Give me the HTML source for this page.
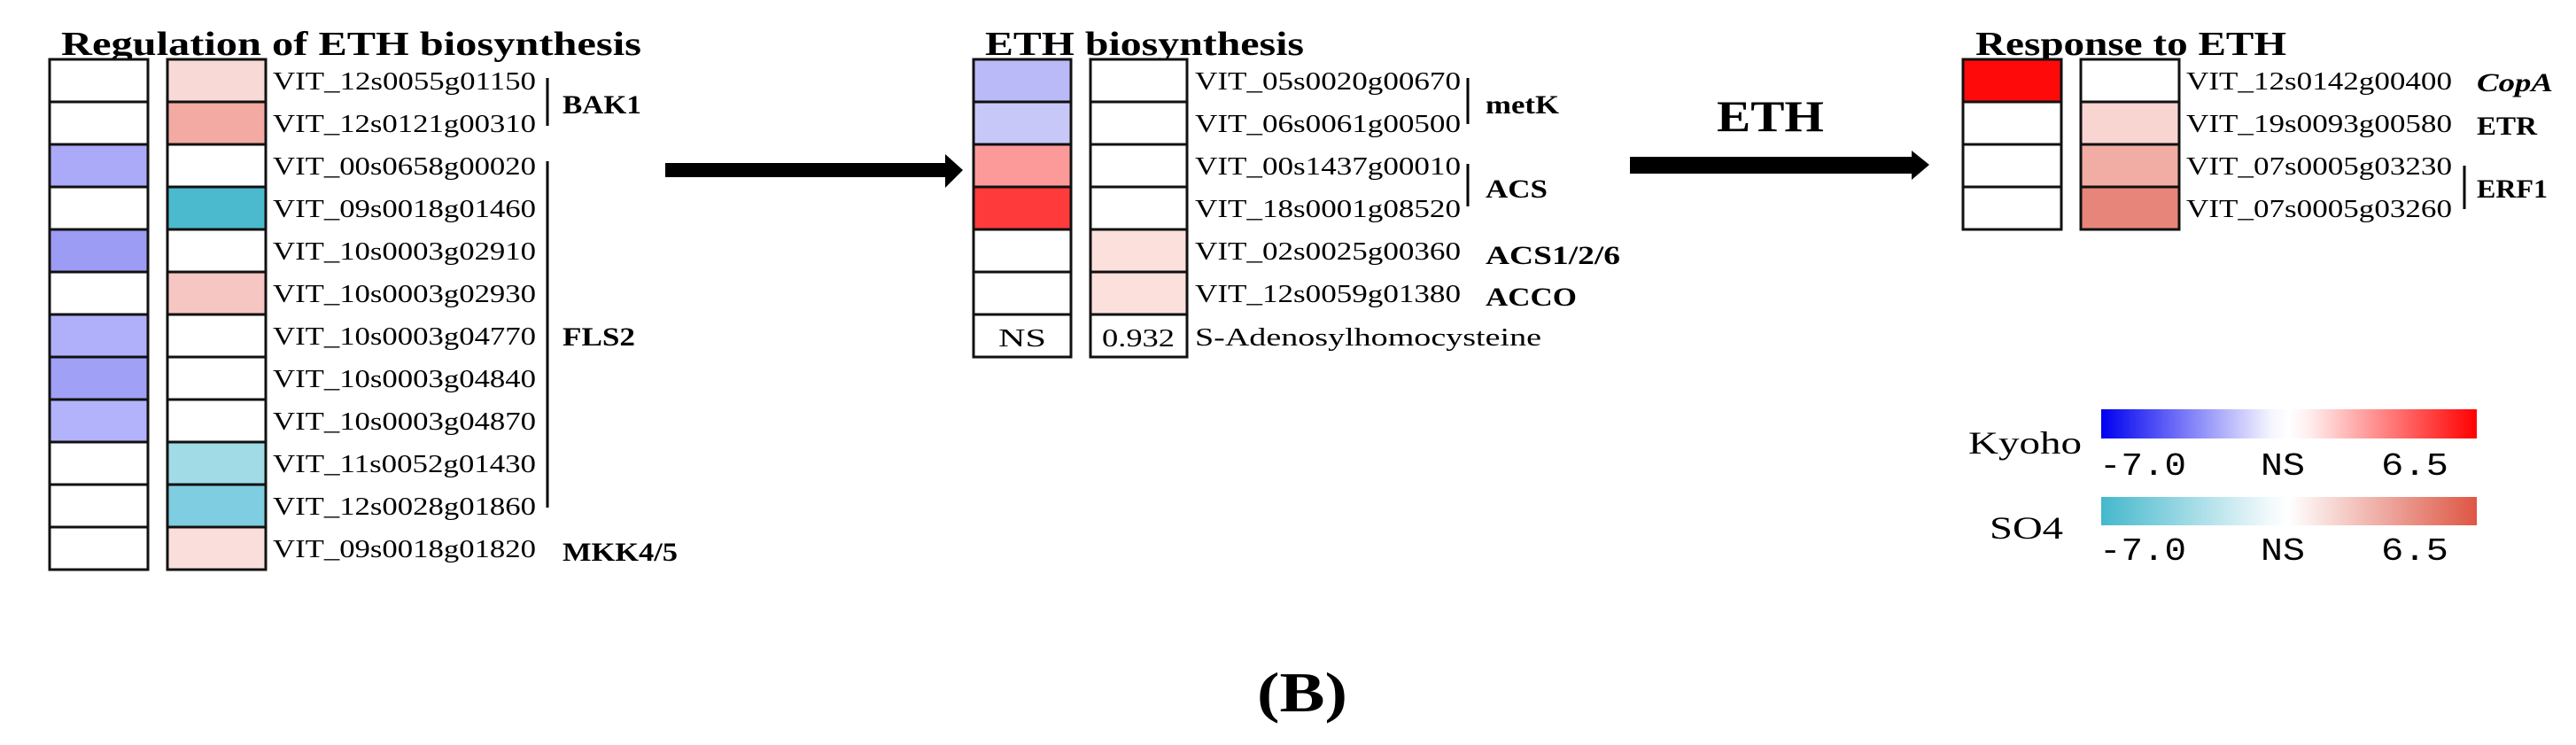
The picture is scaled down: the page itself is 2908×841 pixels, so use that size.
<!DOCTYPE html>
<html><head><meta charset="utf-8"><style>html,body{margin:0;padding:0;background:#fff}svg{display:block}</style></head>
<body>
<svg width="2908" height="841" viewBox="0 0 2908 841" xmlns="http://www.w3.org/2000/svg">
<defs>
<linearGradient id="gk" x1="0" x2="1" y1="0" y2="0">
<stop offset="0" stop-color="#0000f0"/><stop offset="0.45" stop-color="#f4f4ff"/><stop offset="0.5" stop-color="#ffffff"/><stop offset="0.55" stop-color="#fff0f0"/><stop offset="1" stop-color="#ff0000"/></linearGradient>
<linearGradient id="gs" x1="0" x2="1" y1="0" y2="0">
<stop offset="0" stop-color="#45b8cc"/><stop offset="0.45" stop-color="#f2fafc"/><stop offset="0.5" stop-color="#ffffff"/><stop offset="0.55" stop-color="#fbeeec"/><stop offset="1" stop-color="#de5644"/></linearGradient>
</defs>
<g font-family="Liberation Serif, serif" fill="#000">
<!-- titles -->
<text x="69" y="62" font-size="38" font-weight="bold" textLength="655" lengthAdjust="spacingAndGlyphs">Regulation of ETH biosynthesis</text>
<text x="1112" y="62" font-size="38" font-weight="bold" textLength="360" lengthAdjust="spacingAndGlyphs">ETH biosynthesis</text>
<text x="2230" y="62" font-size="38" font-weight="bold" textLength="351" lengthAdjust="spacingAndGlyphs">Response to ETH</text>
</g>
<!-- left heatmap -->
<g stroke="#111" stroke-width="3">
<rect x="56" y="67" width="111" height="48" fill="#fff"/>
<rect x="56" y="115" width="111" height="48" fill="#fff"/>
<rect x="56" y="163" width="111" height="48" fill="#aaaaf8"/>
<rect x="56" y="211" width="111" height="48" fill="#fff"/>
<rect x="56" y="259" width="111" height="48" fill="#9c9cf5"/>
<rect x="56" y="307" width="111" height="48" fill="#fff"/>
<rect x="56" y="355" width="111" height="48" fill="#b0b0fa"/>
<rect x="56" y="403" width="111" height="48" fill="#a0a0f7"/>
<rect x="56" y="451" width="111" height="48" fill="#b3b3fb"/>
<rect x="56" y="499" width="111" height="48" fill="#fff"/>
<rect x="56" y="547" width="111" height="48" fill="#fff"/>
<rect x="56" y="595" width="111" height="48" fill="#fff"/>
<rect x="189" y="67" width="111" height="48" fill="#f9d9d6"/>
<rect x="189" y="115" width="111" height="48" fill="#f2aaa3"/>
<rect x="189" y="163" width="111" height="48" fill="#fff"/>
<rect x="189" y="211" width="111" height="48" fill="#4bbacf"/>
<rect x="189" y="259" width="111" height="48" fill="#fff"/>
<rect x="189" y="307" width="111" height="48" fill="#f5c6c2"/>
<rect x="189" y="355" width="111" height="48" fill="#fff"/>
<rect x="189" y="403" width="111" height="48" fill="#fff"/>
<rect x="189" y="451" width="111" height="48" fill="#fff"/>
<rect x="189" y="499" width="111" height="48" fill="#a0dbe6"/>
<rect x="189" y="547" width="111" height="48" fill="#7ecde0"/>
<rect x="189" y="595" width="111" height="48" fill="#fadedb"/>
</g>
<g font-family="Liberation Serif, serif" font-size="28" fill="#000">
<text x="308" y="101" textLength="297" lengthAdjust="spacingAndGlyphs">VIT_12s0055g01150</text>
<text x="308" y="149" textLength="297" lengthAdjust="spacingAndGlyphs">VIT_12s0121g00310</text>
<text x="308" y="197" textLength="297" lengthAdjust="spacingAndGlyphs">VIT_00s0658g00020</text>
<text x="308" y="245" textLength="297" lengthAdjust="spacingAndGlyphs">VIT_09s0018g01460</text>
<text x="308" y="293" textLength="297" lengthAdjust="spacingAndGlyphs">VIT_10s0003g02910</text>
<text x="308" y="341" textLength="297" lengthAdjust="spacingAndGlyphs">VIT_10s0003g02930</text>
<text x="308" y="389" textLength="297" lengthAdjust="spacingAndGlyphs">VIT_10s0003g04770</text>
<text x="308" y="437" textLength="297" lengthAdjust="spacingAndGlyphs">VIT_10s0003g04840</text>
<text x="308" y="485" textLength="297" lengthAdjust="spacingAndGlyphs">VIT_10s0003g04870</text>
<text x="308" y="533" textLength="297" lengthAdjust="spacingAndGlyphs">VIT_11s0052g01430</text>
<text x="308" y="581" textLength="297" lengthAdjust="spacingAndGlyphs">VIT_12s0028g01860</text>
<text x="308" y="629" textLength="297" lengthAdjust="spacingAndGlyphs">VIT_09s0018g01820</text>
</g>
<g stroke="#000" stroke-width="3">
<line x1="618" y1="88" x2="618" y2="142"/>
<line x1="618" y1="182" x2="618" y2="573"/>
<line x1="1657" y1="88" x2="1657" y2="140"/>
<line x1="1657" y1="185" x2="1657" y2="233"/>
<line x1="2782" y1="187" x2="2782" y2="236"/>
</g>
<g font-family="Liberation Serif, serif" font-size="30" font-weight="bold" fill="#000">
<text x="635" y="128" textLength="89" lengthAdjust="spacingAndGlyphs">BAK1</text>
<text x="635" y="390" textLength="82" lengthAdjust="spacingAndGlyphs">FLS2</text>
<text x="635" y="633" textLength="130" lengthAdjust="spacingAndGlyphs">MKK4/5</text>
<text x="1677" y="128" textLength="83" lengthAdjust="spacingAndGlyphs">metK</text>
<text x="1677" y="223" textLength="70" lengthAdjust="spacingAndGlyphs">ACS</text>
<text x="1677" y="298" textLength="152" lengthAdjust="spacingAndGlyphs">ACS1/2/6</text>
<text x="1677" y="345" textLength="103" lengthAdjust="spacingAndGlyphs">ACCO</text>
<text x="2796" y="103" font-style="italic" textLength="86" lengthAdjust="spacingAndGlyphs">CopA</text>
<text x="2796" y="152" textLength="68" lengthAdjust="spacingAndGlyphs">ETR</text>
<text x="2796" y="223" textLength="80" lengthAdjust="spacingAndGlyphs">ERF1</text>
</g>
<!-- arrows -->
<rect x="751" y="184" width="318" height="16" fill="#000"/>
<polygon points="1067,174 1087,192 1067,212" fill="#000"/>
<rect x="1840" y="177" width="320" height="19" fill="#000"/>
<polygon points="2158,170 2178,186 2158,203" fill="#000"/>
<text x="1938" y="148" font-family="Liberation Serif, serif" font-size="50" font-weight="bold" textLength="121" lengthAdjust="spacingAndGlyphs">ETH</text>
<!-- middle heatmap -->
<g stroke="#111" stroke-width="3">
<rect x="1099" y="67" width="110" height="48" fill="#babaf9"/>
<rect x="1099" y="115" width="110" height="48" fill="#c8c8f8"/>
<rect x="1099" y="163" width="110" height="48" fill="#fc9a9a"/>
<rect x="1099" y="211" width="110" height="48" fill="#ff3a3a"/>
<rect x="1099" y="259" width="110" height="48" fill="#fff"/>
<rect x="1099" y="307" width="110" height="48" fill="#fff"/>
<rect x="1099" y="355" width="110" height="48" fill="#fff"/>
<rect x="1231" y="67" width="109" height="48" fill="#fff"/>
<rect x="1231" y="115" width="109" height="48" fill="#fff"/>
<rect x="1231" y="163" width="109" height="48" fill="#fff"/>
<rect x="1231" y="211" width="109" height="48" fill="#fff"/>
<rect x="1231" y="259" width="109" height="48" fill="#fbe0dc"/>
<rect x="1231" y="307" width="109" height="48" fill="#fbe0dc"/>
<rect x="1231" y="355" width="109" height="48" fill="#fff"/>
</g>
<g font-family="Liberation Serif, serif" font-size="28" fill="#000">
<text x="1349" y="101" textLength="300" lengthAdjust="spacingAndGlyphs">VIT_05s0020g00670</text>
<text x="1349" y="149" textLength="300" lengthAdjust="spacingAndGlyphs">VIT_06s0061g00500</text>
<text x="1349" y="197" textLength="300" lengthAdjust="spacingAndGlyphs">VIT_00s1437g00010</text>
<text x="1349" y="245" textLength="300" lengthAdjust="spacingAndGlyphs">VIT_18s0001g08520</text>
<text x="1349" y="293" textLength="300" lengthAdjust="spacingAndGlyphs">VIT_02s0025g00360</text>
<text x="1349" y="341" textLength="300" lengthAdjust="spacingAndGlyphs">VIT_12s0059g01380</text>
<text x="1349" y="390" textLength="391" lengthAdjust="spacingAndGlyphs">S-Adenosylhomocysteine</text>
<text x="1154" y="391" text-anchor="middle" textLength="54" lengthAdjust="spacingAndGlyphs">NS</text>
<text x="1285" y="391" text-anchor="middle" textLength="82" lengthAdjust="spacingAndGlyphs">0.932</text>
</g>
<!-- right heatmap -->
<g stroke="#111" stroke-width="3">
<rect x="2216" y="67" width="111" height="48" fill="#fe0a0a"/>
<rect x="2216" y="115" width="111" height="48" fill="#fff"/>
<rect x="2216" y="163" width="111" height="48" fill="#fff"/>
<rect x="2216" y="211" width="111" height="48" fill="#fff"/>
<rect x="2349" y="67" width="111" height="48" fill="#fff"/>
<rect x="2349" y="115" width="111" height="48" fill="#f8d5d1"/>
<rect x="2349" y="163" width="111" height="48" fill="#f1aca4"/>
<rect x="2349" y="211" width="111" height="48" fill="#e8857a"/>
</g>
<g font-family="Liberation Serif, serif" font-size="28" fill="#000">
<text x="2468" y="101" textLength="300" lengthAdjust="spacingAndGlyphs">VIT_12s0142g00400</text>
<text x="2468" y="149" textLength="300" lengthAdjust="spacingAndGlyphs">VIT_19s0093g00580</text>
<text x="2468" y="197" textLength="300" lengthAdjust="spacingAndGlyphs">VIT_07s0005g03230</text>
<text x="2468" y="245" textLength="300" lengthAdjust="spacingAndGlyphs">VIT_07s0005g03260</text>
</g>
<!-- legend -->
<rect x="2372" y="462" width="424" height="33" fill="url(#gk)"/>
<rect x="2372" y="561" width="424" height="32" fill="url(#gs)"/>
<g font-family="Liberation Serif, serif" font-size="36" fill="#000">
<text x="2222" y="512" textLength="128" lengthAdjust="spacingAndGlyphs">Kyoho</text>
<text x="2246" y="608" textLength="83" lengthAdjust="spacingAndGlyphs">SO4</text>
</g>
<g font-family="Liberation Mono, monospace" font-size="36" fill="#000">
<text x="2370" y="536" textLength="98" lengthAdjust="spacingAndGlyphs">-7.0</text>
<text x="2552" y="536" textLength="50" lengthAdjust="spacingAndGlyphs">NS</text>
<text x="2688" y="536" textLength="76" lengthAdjust="spacingAndGlyphs">6.5</text>
<text x="2370" y="632" textLength="98" lengthAdjust="spacingAndGlyphs">-7.0</text>
<text x="2552" y="632" textLength="50" lengthAdjust="spacingAndGlyphs">NS</text>
<text x="2688" y="632" textLength="76" lengthAdjust="spacingAndGlyphs">6.5</text>
</g>
<text x="1470" y="803" text-anchor="middle" font-family="Liberation Serif, serif" font-size="64" font-weight="bold" textLength="102" lengthAdjust="spacingAndGlyphs">(B)</text>
</svg>
</body></html>
